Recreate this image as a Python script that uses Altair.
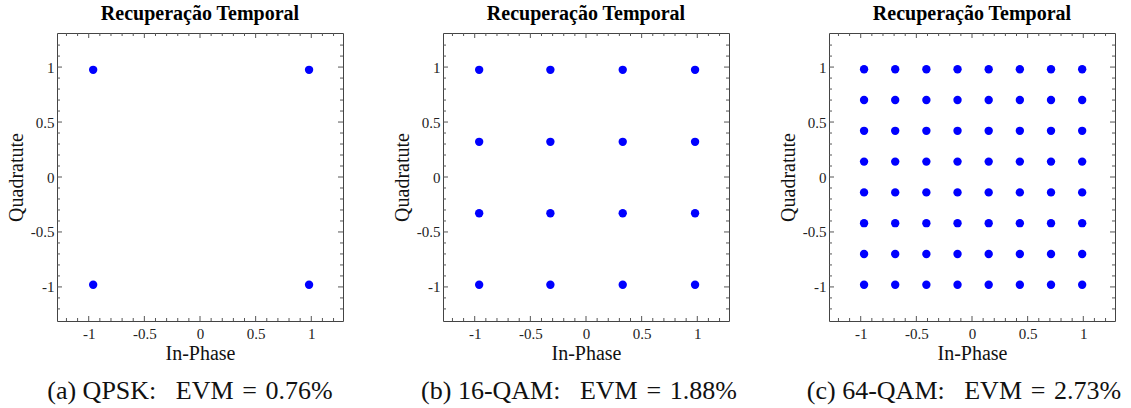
import altair as alt
import pandas as pd

# ---- data ----
titles = ["Recuperação Temporal", "Recuperação Temporal", "Recuperação Temporal"]
EN = "\u2002"
TS = "\u2004"
captions = [
    f"(a) QPSK:{EN} EVM{TS}={TS}0.76%",
    f"(b) 16-QAM:{EN} EVM{TS}={TS}1.88%",
    f"(c) 64-QAM:{EN} EVM{TS}={TS}2.73%",
]

qpsk_i = [-0.96, 0.98]
qpsk_q = [0.975, -0.98]

qam16_i = [-0.96, -0.32, 0.33, 0.98]
qam16_q = [0.975, 0.32, -0.33, -0.98]

qam64_i = [-0.97, -0.69, -0.41, -0.13, 0.15, 0.43, 0.71, 0.99]
qam64_q = [0.98, 0.70, 0.42, 0.14, -0.14, -0.42, -0.70, -0.98]

major_ticks = [-1.0, -0.5, 0.0, 0.5, 1.0]
minor_ticks = [-1.2, -1.1, -0.9, -0.8, -0.7, -0.6, -0.4, -0.3, -0.2, -0.1,
               0.1, 0.2, 0.3, 0.4, 0.6, 0.7, 0.8, 0.9, 1.1, 1.2]

W, H = 286, 288
XD = [-1.285, 1.285]
YD = [-1.31, 1.31]
SERIF = "Liberation Serif"
caption_dx = [-10, -7, -8]


def grid(iv, qv):
    return pd.DataFrame([{"I": a, "Q": b} for b in qv for a in iv])


sets = [grid(qpsk_i, qpsk_q), grid(qam16_i, qam16_q), grid(qam64_i, qam64_q)]

xs = alt.Scale(domain=XD, nice=False, zero=False)
ys = alt.Scale(domain=YD, nice=False, zero=False)


def tick_layers():
    maj = pd.DataFrame({"t": major_ticks})
    mnr = pd.DataFrame({"t": minor_ticks})
    layers = []
    for df, ln in ((maj, 5), (mnr, 3)):
        base = alt.Chart(df).mark_rule(color="#555", strokeWidth=1)
        layers += [
            base.encode(x=alt.X("t:Q", scale=xs), y=alt.value(H), y2=alt.value(H - ln)),
            base.encode(x=alt.X("t:Q", scale=xs), y=alt.value(0), y2=alt.value(ln)),
            base.encode(y=alt.Y("t:Q", scale=ys), x=alt.value(0), x2=alt.value(ln)),
            base.encode(y=alt.Y("t:Q", scale=ys), x=alt.value(W), x2=alt.value(W - ln)),
        ]
    return layers


def panel(i):
    pts = alt.Chart(sets[i]).mark_circle(color="#0000FF", opacity=1, size=70).encode(
        x=alt.X("I:Q", scale=xs, title="In-Phase",
                axis=alt.Axis(values=major_ticks, ticks=False, grid=False, domain=False,
                              labelExpr="'' + datum.value", labelFont=SERIF, labelFontSize=15,
                              labelColor="#222", labelPadding=5,
                              titleFont=SERIF, titleFontSize=20, titleFontWeight="normal",
                              titleColor="#111", titlePadding=2)),
        y=alt.Y("Q:Q", scale=ys, title="Quadratute",
                axis=alt.Axis(values=major_ticks, ticks=False, grid=False, domain=False,
                              labelExpr="'' + datum.value", labelFont=SERIF, labelFontSize=15,
                              labelColor="#222", labelPadding=3,
                              titleFont=SERIF, titleFontSize=20, titleFontWeight="normal",
                              titleColor="#111", titlePadding=4)),
    )
    cap = alt.Chart(pd.DataFrame({"c": [captions[i]]})).mark_text(
        font=SERIF, fontSize=26, color="#111", align="center", baseline="alphabetic"
    ).encode(text="c:N", x=alt.value(W / 2 + caption_dx[i]), y=alt.value(H + 78))
    return alt.layer(pts, *tick_layers(), cap).properties(
        width=W, height=H,
        title=alt.TitleParams(titles[i], font=SERIF, fontSize=20, fontWeight="bold",
                              color="#000", offset=9),
    )


chart = alt.hconcat(panel(0), panel(1), panel(2), spacing=100, bounds="flush").configure(
    padding={"left": 5, "top": 3, "right": 2, "bottom": 2}
).configure_view(stroke="#444", strokeWidth=1).configure_title(anchor="middle")

chart.save("out.html", embed_options={"renderer": "svg", "actions": False})
